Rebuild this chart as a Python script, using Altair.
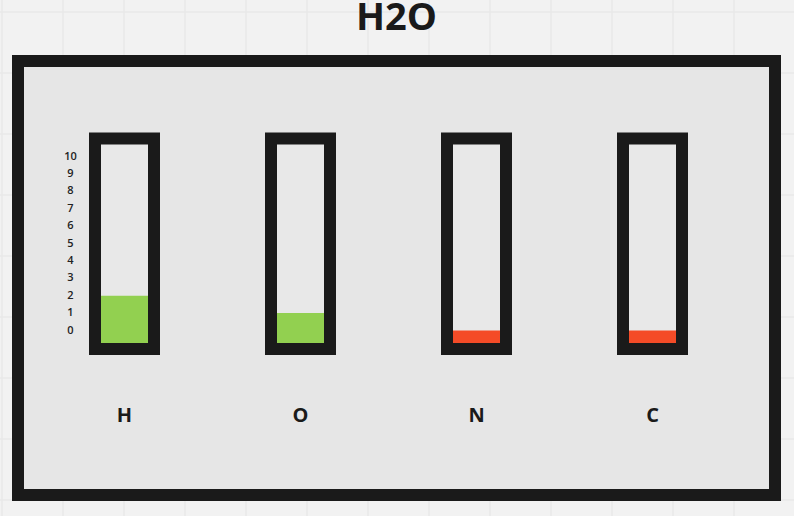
import altair as alt
import pandas as pd

# ---- data ----
elements = ["H", "O", "N", "C"]
counts = [2, 1, 0, 0]
fill_colors = ["#92d050", "#92d050", "#f44b27", "#f44b27"]
ticks = [0, 1, 2, 3, 4, 5, 6, 7, 8, 9, 10]
title_text = "H2O"
grid_cols = list(range(13))
grid_rows = list(range(9))

# tube capacity in value units (frame stroke centres)
TUBE_BOTTOM = -1.06
TUBE_TOP = 11.03

W, H = 757, 434
FONT = "Open Sans"
DARK = "#1a1a1a"

df = pd.DataFrame({"element": elements, "count": counts, "color": fill_colors})
df_ticks = pd.DataFrame({"tick": ticks})
df_one = pd.DataFrame({"t": [title_text]})

xs = alt.Scale(type="point", domain=elements, range=[106.5, 634.5], padding=0)
ys = alt.Scale(type="linear", domain=[0, 10], range=[269.5, 95.5], zero=False, nice=False)

X = alt.X("element:N", scale=xs, axis=None)

box = alt.Chart(df_one).mark_rect(
    fill="#e6e6e6", stroke=DARK, strokeWidth=12, strokeJoin="miter"
).encode(x=alt.value(0), x2=alt.value(W), y=alt.value(0), y2=alt.value(H))

frame_fill = alt.Chart(df).mark_bar(size=59, fill="#e8e8e8", strokeWidth=0).encode(
    x=X,
    y=alt.Y(datum=TUBE_TOP, scale=ys, axis=None),
    y2=alt.Y2(datum=TUBE_BOTTOM),
)

bars = alt.Chart(df).mark_bar(size=59).encode(
    x=X,
    y=alt.Y("count:Q", scale=ys, axis=None),
    y2=alt.Y2(datum=TUBE_BOTTOM),
    color=alt.Color("color:N", scale=None),
)

frame_stroke = alt.Chart(df).mark_bar(
    size=59, filled=False, stroke=DARK, strokeWidth=12, strokeJoin="miter"
).encode(
    x=X,
    y=alt.Y(datum=TUBE_TOP, scale=ys, axis=None),
    y2=alt.Y2(datum=TUBE_BOTTOM),
)

tick_text = alt.Chart(df_ticks).mark_text(
    font=FONT, fontSize=11, fontWeight=600, color="#222222", align="center", baseline="middle"
).encode(
    x=alt.value(52.5),
    y=alt.Y("tick:Q", scale=ys, axis=None),
    text=alt.Text("tick:Q"),
)

labels = alt.Chart(df).mark_text(
    font=FONT, fontSize=20, fontWeight="bold", color=DARK, align="center", baseline="middle"
).encode(x=X, y=alt.value(355), text="element:N")

title = alt.Chart(df_one).mark_text(
    font=FONT, fontSize=38, fontWeight="bold", color=DARK, align="center", baseline="middle"
).encode(x=alt.value(378.5), y=alt.value(-42), text="t:N")

main = alt.layer(box, frame_fill, bars, frame_stroke, tick_text, labels, title)

grid_v = alt.Chart(pd.DataFrame({"gx": grid_cols})).mark_rule(
    clip=False, color="#e8e8e8", strokeWidth=1.5
).encode(
    x=alt.X("gx:Q", scale=alt.Scale(domain=[0, 12], range=[-16, 716], nice=False, zero=False), axis=None),
    y=alt.value(-61),
    y2=alt.value(455),
)

grid_h = alt.Chart(pd.DataFrame({"gy": grid_rows})).mark_rule(
    clip=False, color="#e8e8e8", strokeWidth=1.5
).encode(
    y=alt.Y("gy:Q", scale=alt.Scale(domain=[0, 8], range=[-49, 439], nice=False, zero=False), axis=None),
    x=alt.value(-18),
    x2=alt.value(776),
)

chart = alt.layer(grid_v, grid_h, main).resolve_scale(
    x="independent", y="independent"
).properties(
    width=W,
    height=H,
    padding={"left": 18, "top": 61, "right": 19, "bottom": 21},
    autosize=alt.AutoSizeParams(type="none"),
    background="#f2f2f2",
).configure_view(stroke=None)

chart.save("out.html", embed_options={"renderer": "svg", "actions": False})
